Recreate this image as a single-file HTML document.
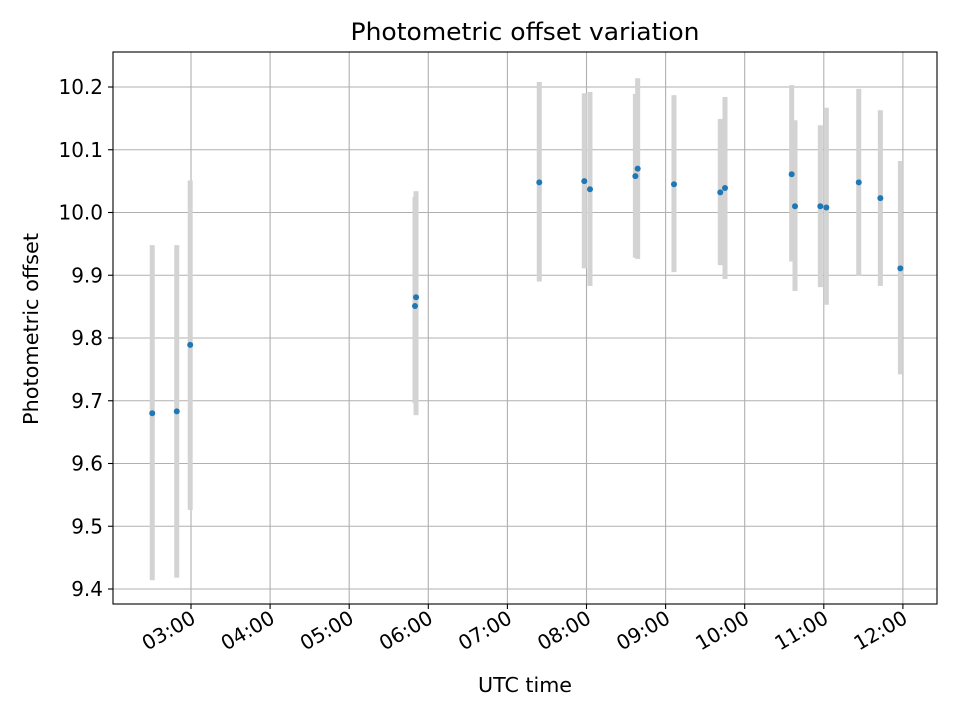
<!DOCTYPE html>
<html><head><meta charset="utf-8"><style>
body{margin:0;background:#fff}
svg text{font-family:"DejaVu Sans","Liberation Sans",sans-serif;fill:#000}
</style></head><body>
<svg id="chart" width="960" height="720" xmlns="http://www.w3.org/2000/svg">
<rect width="960" height="720" fill="#fff"/>
<text x="525" y="40" font-size="24" text-anchor="middle" textLength="349" lengthAdjust="spacingAndGlyphs">Photometric offset variation</text>
<g id="grid"></g>
<g id="bars"></g>
<g id="pts"></g>
<rect x="113" y="52" width="824" height="552" fill="none" stroke="#000" stroke-width="1.1"/>
<g id="axes"></g>
<text x="525" y="692" font-size="20" text-anchor="middle" textLength="94" lengthAdjust="spacingAndGlyphs">UTC time</text>
<text x="0" y="0" font-size="20" text-anchor="middle" textLength="192" lengthAdjust="spacingAndGlyphs" transform="translate(38,329) rotate(-90)">Photometric offset</text>
</svg>
<script>
const times = [2.51,2.82,2.99,5.832,5.845,7.403,7.972,8.044,8.618,8.647,9.106,9.691,9.751,10.594,10.636,10.956,11.032,11.442,11.715,11.968];
const values = [9.680,9.683,9.789,9.851,9.865,10.048,10.050,10.037,10.058,10.070,10.045,10.032,10.039,10.061,10.010,10.010,10.008,10.048,10.023,9.911];
const lows = [9.414,9.418,9.526,9.696,9.677,9.890,9.911,9.883,9.928,9.926,9.905,9.916,9.894,9.922,9.875,9.881,9.853,9.899,9.883,9.742];
const highs = [9.948,9.948,10.051,10.025,10.034,10.208,10.190,10.192,10.189,10.214,10.187,10.149,10.184,10.203,10.147,10.139,10.167,10.197,10.163,10.082];
const yTicks = [9.4,9.5,9.6,9.7,9.8,9.9,10.0,10.1,10.2];
const xTicks = [3,4,5,6,7,8,9,10,11,12];
const xTickLabels = ["03:00","04:00","05:00","06:00","07:00","08:00","09:00","10:00","11:00","12:00"];

const L=113,R=937,T=52,B=604;
const xs = h => 191 + (h-3)*79.1;
const ys = v => 87 + (10.2-v)*627.5;
const NS="http://www.w3.org/2000/svg";
function mk(tag, attrs, parent){const e=document.createElementNS(NS,tag);for(const k in attrs)e.setAttribute(k,attrs[k]);parent.appendChild(e);return e;}
const grid=document.getElementById('grid'), axes=document.getElementById('axes');
const bars=document.getElementById('bars'), pts=document.getElementById('pts');

yTicks.forEach(v=>{
  const y=ys(v);
  const g=mk('line',{x1:L,x2:R,y1:y,y2:y,stroke:'#b0b0b0','stroke-width':1.1},grid);
  
  
  const t=mk('line',{x1:L-5,x2:L,y1:y,y2:y,stroke:'#000','stroke-width':1.1},axes);
  
  
  const tx=mk('text',{x:L-10,y:y+7,'font-size':20,'text-anchor':'end'},axes);
  tx.textContent=v.toFixed(1);
  
  
});
xTicks.forEach((h,i)=>{
  const x=xs(h);
  const g=mk('line',{x1:x,x2:x,y1:T,y2:B,stroke:'#b0b0b0','stroke-width':1.1},grid);
  
  
  const t=mk('line',{x1:x,x2:x,y1:B,y2:B+5,stroke:'#000','stroke-width':1.1},axes);
  
  
  const tx=mk('text',{x:0,y:0,'font-size':20,'text-anchor':'end',transform:`translate(${x+6},${B+18}) rotate(-30)`},axes);
  tx.textContent=xTickLabels[i];
  
  
});
times.forEach((h,i)=>{
  const x=xs(h);
  const b=mk('rect',{x:x-2.5,y:ys(highs[i]),width:5,height:ys(lows[i])-ys(highs[i]),fill:'#d3d3d3'},bars);
  
  
  const c=mk('circle',{cx:x,cy:ys(values[i]),r:3,fill:'#1f77b4'},pts);
  
  
});
</script>
</body></html>
